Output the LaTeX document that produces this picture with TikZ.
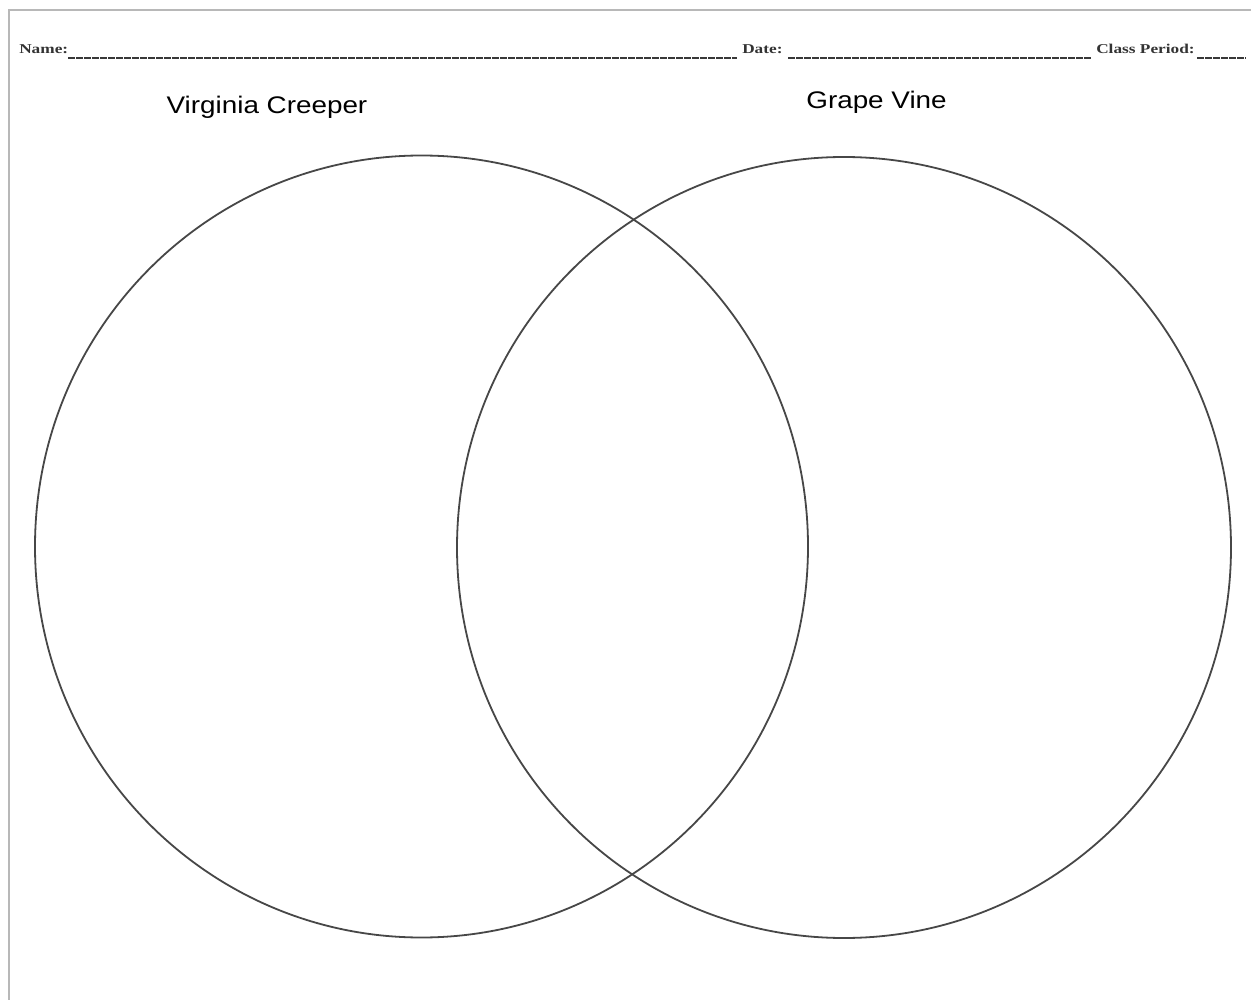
\documentclass[tikz,border=0pt]{standalone}
\usepackage{fontspec}
\setmainfont{Liberation Serif}
\newfontfamily\labelfont{Liberation Sans}
\begin{document}
\begin{tikzpicture}[x=1pt,y=-1pt,
  ring/.style={draw=black!72,line width=1.8pt},
  hdr/.style={font=\fontsize{13.5}{16}\selectfont\bfseries,text=black!80,xscale=1.28,inner sep=0pt,anchor=base west},
  blank/.style={draw=black!78,line width=2.8pt,dash pattern=on 7pt off 1pt},
  title/.style={font=\labelfont\fontsize{24}{28}\selectfont,xscale=1.16,inner sep=0pt,anchor=base},
  frame/.style={draw=black!28,line width=2.5pt}]
\useasboundingbox (0,0) rectangle (1251,1000);
\fill[white] (0,0) rectangle (1251,1000);
% page frame
\coordinate (fl) at (9,1000);
\coordinate (ft) at (9,10);
\coordinate (fr) at (1251,10);
\draw[frame] (fl) -- (ft) -- (fr);
% header
\node[hdr] (name) at (19,54) {Name:};
\coordinate (n1) at (68,58); \coordinate (n2) at (737,58);
\draw[blank] (n1) -- (n2);
\node[hdr] (date) at (742,54) {Date:};
\coordinate (d1) at (788,58); \coordinate (d2) at (1092,58);
\draw[blank] (d1) -- (d2);
\node[hdr] (period) at (1096,54) {Class Period:};
\coordinate (p1) at (1197,58); \coordinate (p2) at (1246,58);
\draw[blank] (p1) -- (p2);
% titles
\node[title] (vc) at (267,114) {Virginia Creeper};
\node[title] (gv) at (876.5,109) {Grape Vine};
% circles
\draw[ring] (421.5,546.5) ellipse [x radius=386.5, y radius=391];
\draw[ring] (844,547.5) ellipse [x radius=387, y radius=390.5];
\end{tikzpicture}
\end{document}
